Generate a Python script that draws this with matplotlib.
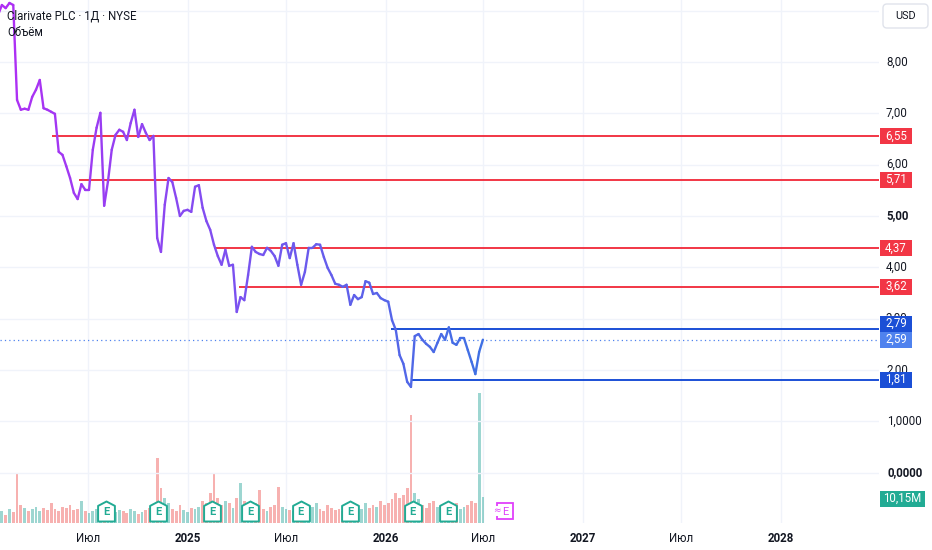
import numpy as np
import pandas as pd
import matplotlib
matplotlib.use("Agg")
import matplotlib.pyplot as plt
import matplotlib.dates as mdates
from matplotlib.collections import LineCollection
from matplotlib.colors import LinearSegmentedColormap
from matplotlib.patches import Rectangle, FancyBboxPatch
from matplotlib.path import Path
import matplotlib.transforms as mtrans

plt.rcParams['font.family'] = ['Roboto', 'DejaVu Sans']

# ---------------- data ----------------
title = "Clarivate PLC · 1Д · NYSE"
subtitle = "Объём"
start_date = "2024-01-16"   # weekly samples

price = [8.92, 9.11, 9.05, 9.15, 9.11, 7.26, 7.07, 7.09, 7.07, 7.32,
         7.46, 7.65, 7.10, 7.07, 7.03, 6.99, 6.25, 6.19, 5.97, 5.74,
         5.45, 5.33, 5.62, 5.51, 5.51, 6.29, 6.72, 7.01, 5.20, 5.67,
         6.29, 6.58, 6.68, 6.64, 6.48, 6.81, 7.07, 6.54, 6.79, 6.62,
         6.48, 6.56, 4.57, 4.30, 5.22, 5.74, 5.66, 5.35, 5.00, 5.10,
         5.12, 5.08, 5.57, 5.60, 5.16, 4.90, 4.73, 4.44, 4.22, 4.05,
         4.34, 4.03, 4.05, 3.13, 3.42, 3.36, 3.85, 4.40, 4.30, 4.26,
         4.24, 4.38, 4.32, 4.22, 4.03, 4.44, 4.47, 4.18, 4.47, 4.05,
         3.66, 3.91, 4.38, 4.38, 4.45, 4.44, 4.20, 3.99, 3.85, 3.68,
         3.66, 3.62, 3.66, 3.27, 3.46, 3.38, 3.42, 3.73, 3.70, 3.48,
         3.50, 3.40, 3.36, 3.33, 2.97, 2.78, 2.29, 2.12, 1.77, 1.67,
         2.66, 2.70, 2.59, 2.51, 2.45, 2.35, 2.53, 2.70, 2.59, 2.83,
         2.53, 2.49, 2.62, 2.62, 2.39, 2.16, 1.92, 2.35, 2.59]

volume_m = [3.9, 4.7, 3.1, 5.5, 4.3,
            19.5,
            7.0, 5.9, 4.7, 5.5, 6.2, 4.7,
            5.9, 5.1, 7.8, 5.5, 4.7, 6.2, 5.9, 7.0, 5.1,
            5.5, 8.6, 4.7, 3.9,
            4.7, 5.5, 3.9, 5.1, 4.7, 5.9,
            4.3, 5.1, 4.7, 3.9, 5.5, 4.7, 3.5, 4.3, 5.1, 5.9, 7.0,
            25.4,
            13.7, 9.8, 7.8,
            5.5, 4.7, 7.0, 5.1, 4.3, 5.9, 5.5, 6.2, 8.6, 7.8, 11.7,
            19.5,
            9.8, 7.0, 8.6, 7.8, 5.9,
            9.8,
            15.6,
            8.6, 7.0,
            5.9, 7.8, 12.9, 5.5, 4.7, 6.2, 7.0,
            14.0, 6.2, 5.5,
            5.1, 4.7, 5.9, 5.5, 7.0, 4.7, 6.2, 7.8, 5.5,
            4.7, 7.0, 5.9, 5.1, 5.5, 4.7, 6.2, 5.9, 5.1,
            6.6, 5.5, 7.8, 5.9, 7.0, 6.2,
            8.6, 7.0, 7.8, 9.4, 11.7, 9.8, 10.9,
            13.7,
            42.1,
            11.7, 9.4,
            7.0, 5.9, 7.8, 8.6, 6.2, 5.5, 7.0,
            5.9, 6.6, 7.8, 5.5, 6.2, 7.0, 8.6, 7.8,
            50.7,
            10.15]

level_prices = [6.55, 5.71, 4.37, 3.62, 2.79, 1.81]
level_starts = ["2024-04-24", "2024-06-13", "2025-02-18", "2025-04-06",
                "2026-01-11", "2026-02-19"]
level_kinds = ["res", "res", "res", "res", "sup", "sup"]

earnings_dates = ["2024-08-03", "2024-11-07", "2025-02-15", "2025-04-26",
                  "2025-07-28", "2025-10-28", "2026-02-20", "2026-04-27"]
future_earnings = "2026-08-09"

tick_dates = ["2024-07-01", "2025-01-01", "2025-07-01", "2026-01-01",
              "2026-07-01", "2027-01-01", "2027-07-01", "2028-01-01"]
tick_labels = ["Июл", "2025", "Июл", "2026", "Июл", "2027", "Июл", "2028"]

price_ticks = [8, 7, 6, 5, 4, 3, 2]
low_ticks = [1, 0]
last_price = 2.59
last_volume_label = "10,15M"
currency = "USD"

# ---------------- styles ----------------
W, H = 932, 550
AX_R = 879          # right edge of plot area (px)
AX_B = 523          # bottom of plot area (px from top)
RED = "#F23645"
BLUE = "#1B4FD6"
CUR = "#4F82EE"
GRID = "#F0F3FA"
TXT = "#131722"
UPV = "#26A69A"
DNV = "#EF5350"
TEAL = "#22AB94"
MAG = "#E040FB"
BOX_H = 16

fig = plt.figure(figsize=(W / 100, H / 100), dpi=100)
fig.patch.set_facecolor("white")
ax = fig.add_axes([0, (H - AX_B) / H, AX_R / W, AX_B / H])
axv = ax.twinx()
ax.set_zorder(2)
axv.set_zorder(1)
ax.patch.set_visible(False)

dates = pd.date_range(start_date, periods=len(price), freq="7D")
xn = mdates.date2num(dates)

x_left = mdates.date2num(pd.Timestamp("2024-01-19 12:00"))
x_right = mdates.date2num(pd.Timestamp("2028-07-01"))
ax.set_xlim(x_left, x_right)
ax.set_ylim(-0.981, 9.208)
axv.set_ylim(0, 204)

for a in (ax, axv):
    for s in a.spines.values():
        s.set_visible(False)
    a.set_yticks([])
axv.set_xlim(x_left, x_right)

# grid
tick_nums = mdates.date2num(pd.to_datetime(tick_dates))
for t in tick_nums:
    axv.axvline(t, color=GRID, lw=1, zorder=0)
for g in range(0, 10):
    ax.axhline(g, color=GRID, lw=1, zorder=0)

# volume bars
vcolors = []
for i in range(len(price)):
    up = i == 0 or price[i] >= price[i - 1]
    vcolors.append(UPV if up else DNV)
axv.bar(xn, volume_m, width=5.2, color=vcolors, alpha=0.45, linewidth=0, zorder=2)

# levels
for lp, ls, kind in zip(level_prices, level_starts, level_kinds):
    c = RED if kind == "res" else BLUE
    ax.hlines(lp, mdates.date2num(pd.Timestamp(ls)), x_right, color=c, lw=1.4, zorder=3)

# current price dotted line
ax.axhline(last_price, color=CUR, lw=0.9, ls=(0, (1, 2.5)), zorder=3)

# price line with gradient
pts = np.column_stack([xn, price])
segs = np.stack([pts[:-1], pts[1:]], axis=1)
cmap = LinearSegmentedColormap.from_list("g", ["#B02EF4", "#7A52F0", "#3F70E4"])
frac = np.linspace(0, 1, len(segs))
lc = LineCollection(segs, colors=cmap(frac), linewidths=1.7, capstyle="round",
                    joinstyle="round", zorder=4)
ax.add_collection(lc)

# earnings icons
blend = mtrans.blended_transform_factory(ax.transData, ax.transAxes)
house = Path([(-0.42, -0.5), (0.42, -0.5), (0.42, 0.28), (0, 0.5), (-0.42, 0.28), (-0.42, -0.5)],
             [Path.MOVETO, Path.LINETO, Path.LINETO, Path.LINETO, Path.LINETO, Path.CLOSEPOLY])
en = mdates.date2num(pd.to_datetime(earnings_dates))
icon_y = 0.023
ax.plot(en, [icon_y] * len(en), transform=blend, linestyle="none", marker=house,
        markersize=14.4, mfc="white", mec=TEAL, mew=1.4, zorder=6, clip_on=False)
for e in en:
    ax.text(e, icon_y - 0.002, "E", transform=blend, ha="center", va="center",
            fontsize=8, fontweight="bold", color=TEAL, zorder=7)
fe = mdates.date2num(pd.Timestamp(future_earnings))
ax.plot([fe], [icon_y], transform=blend, linestyle="none", marker="s", markersize=11.2,
        mfc="white", mec=MAG, mew=1.3, zorder=6)
ax.text(fe + 1.5, icon_y - 0.002, "E", transform=blend, ha="center", va="center",
        fontsize=8, color=MAG, zorder=7)
ax.text(fe - 14.5, icon_y, "≈", transform=blend, ha="center", va="center", fontsize=6.5,
        color=MAG, zorder=8, family=["DejaVu Sans"],
        bbox=dict(facecolor="white", edgecolor="none", pad=0.1))

# x ticks
ax.set_xticks(tick_nums)
ax.set_xticklabels(tick_labels)
ax.tick_params(axis="x", length=0, pad=6.5, labelsize=8.3, labelcolor=TXT)
for lbl, t in zip(ax.get_xticklabels(), tick_labels):
    if t.isdigit():
        lbl.set_fontweight("bold")
axv.tick_params(axis="x", length=0, labelbottom=False)

# ---------------- overlays in pixel space ----------------
ident = mtrans.IdentityTransform()


def py(val, a=ax):
    return a.transData.transform((x_left, val))[1]


def fmt2(v):
    return f"{v:.2f}".replace(".", ",")


rx = AX_R + 7
for t in price_ticks:
    fig.text(rx, py(t), fmt2(t), transform=ident, ha="left", va="center",
             fontsize=8.3, color=TXT, fontweight=("bold" if t == 5 else "normal"), zorder=5)
for t in low_ticks:
    fig.text(rx + 1, py(t), f"{t:.4f}".replace(".", ","), transform=ident, ha="left",
             va="center", fontsize=8.3, color=TXT,
             fontweight=("bold" if t == 0 else "normal"), zorder=5)


def label_box(yc, text, color, x0=AX_R + 1, x1=AX_R + 33, h=BOX_H):
    fig.add_artist(Rectangle((x0, yc - h / 2), x1 - x0, h, transform=ident,
                             facecolor=color, edgecolor="none", zorder=10))
    fig.text((x0 + x1) / 2, yc + 0.5, text, transform=ident, ha="center", va="center",
             fontsize=8.3, color="white", zorder=11)


cur_y = py(last_price)
for lp, kind in zip(level_prices, level_kinds):
    yc = py(lp)
    # stack labels so they do not collide with the current-price label
    if abs(yc - cur_y) < BOX_H:
        yc = cur_y + BOX_H if yc > cur_y else cur_y - BOX_H
    label_box(yc, fmt2(lp), RED if kind == "res" else BLUE)
label_box(cur_y, fmt2(last_price), CUR)
label_box(py(volume_m[-1], axv) - 2, last_volume_label, TEAL, x1=AX_R + 46)

# currency box
fig.add_artist(FancyBboxPatch((AX_R + 4, H - 28), 45, 24, transform=ident,
                              boxstyle="round,pad=0,rounding_size=4",
                              facecolor="white", edgecolor="#E0E3EB", lw=1, zorder=10))
fig.text(AX_R + 26.5, H - 16, currency, transform=ident, ha="center", va="center",
         fontsize=7.8, color=TXT, zorder=11)

# legend texts
fig.text(7, H - 16.5, title, transform=ident, ha="left", va="center",
         fontsize=8.3, color=TXT, zorder=12)
fig.text(7, H - 33, subtitle, transform=ident, ha="left", va="center",
         fontsize=8.3, color=TXT, zorder=12)

fig.savefig("out.png", dpi=100, facecolor="white")
